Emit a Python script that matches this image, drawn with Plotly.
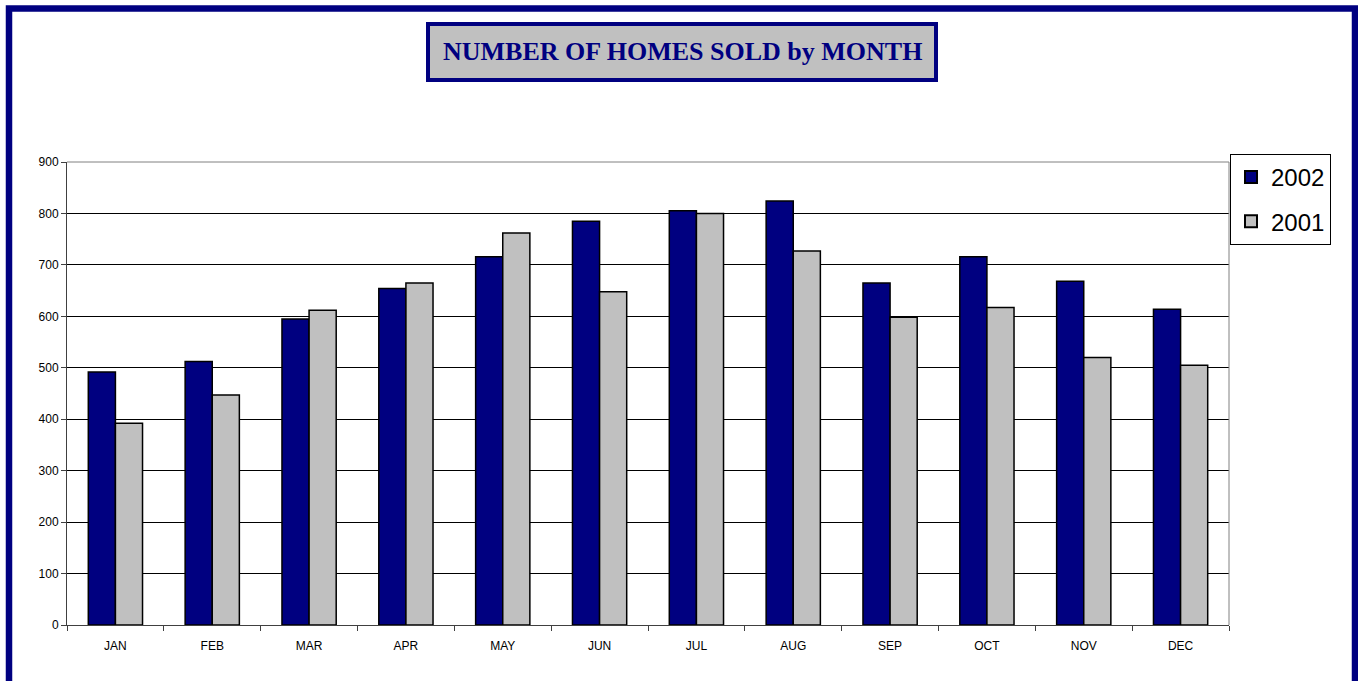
import plotly.graph_objects as go

months = ["JAN", "FEB", "MAR", "APR", "MAY", "JUN", "JUL", "AUG", "SEP", "OCT", "NOV", "DEC"]
sales_2002 = [492, 512, 595, 654, 716, 785, 805, 824, 665, 716, 668, 614]
sales_2001 = [392, 447, 612, 665, 762, 648, 800, 727, 598, 617, 520, 505]
y_ticks = [0, 100, 200, 300, 400, 500, 600, 700, 800, 900]

W, H = 1358, 681
L, R, T, B = 67, 129, 162, 56
pw, ph = W - L - R, H - T - B

def px(x):
    return (x - L) / pw

def py(y):
    return (H - B - y) / ph

fig = go.Figure()
fig.add_trace(go.Bar(x=months, y=sales_2002, name="2002", legendgroup="a",
                     marker=dict(color="#000080", line=dict(color="#000000", width=1.5))))
fig.add_trace(go.Bar(x=months, y=sales_2001, name="2001", legendgroup="b",
                     marker=dict(color="#C0C0C0", line=dict(color="#000000", width=1.5))))

fig.update_layout(
    width=W, height=H,
    margin=dict(l=L, r=R, t=T, b=B, autoexpand=False),
    paper_bgcolor="white", plot_bgcolor="white",
    barmode="group", bargap=0.44, bargroupgap=0,
    font=dict(family="Liberation Sans, Arial", color="black"),
    showlegend=True,
    legend=dict(x=px(1230), y=py(154), xanchor="left", yanchor="top",
                bordercolor="black", borderwidth=1, bgcolor="white",
                font=dict(size=24, family="Liberation Sans, Arial"),
                itemsizing="constant", tracegroupgap=10),
    xaxis=dict(showline=True, linecolor="#404040", linewidth=1,
               ticks="outside", tickson="boundaries", ticklen=5, tickcolor="#404040",
               tickfont=dict(size=12), showgrid=False, ticklabelstandoff=10),
    yaxis=dict(range=[0, 900], tickvals=y_ticks, showline=True, linecolor="#404040", linewidth=1,
               ticks="outside", ticklen=5, tickcolor="#404040", tickfont=dict(size=12),
               showgrid=True, gridcolor="#000000", gridwidth=1, zeroline=False),
)

# plot right border
fig.add_shape(type="line", xref="paper", yref="paper", x0=1, x1=1, y0=0, y1=1,
              line=dict(color="#808080", width=1))
# top border line (900)
fig.add_shape(type="line", xref="paper", yref="paper", x0=0, x1=1, y0=1, y1=1,
              line=dict(color="#808080", width=1))

# outer navy frame
fig.add_shape(type="rect", xref="paper", yref="paper",
              x0=px(9), x1=px(1355), y0=py(700), y1=py(8.5),
              line=dict(color="#000080", width=6.5), fillcolor="rgba(0,0,0,0)", layer="above")

# title box
fig.add_shape(type="rect", xref="paper", yref="paper",
              x0=px(428), x1=px(936), y0=py(80), y1=py(24),
              line=dict(color="#000080", width=4), fillcolor="#C0C0C0", layer="above")
fig.add_annotation(text="<b>NUMBER OF HOMES SOLD by MONTH</b>", xref="paper", yref="paper",
                   x=px(682), y=py(52), xanchor="center", yanchor="middle", showarrow=False,
                   font=dict(family="Liberation Serif, Times New Roman", size=26, color="#000080"))

fig.write_html("out.html", config={"displayModeBar": False},
               post_script="document.body.style.margin='0';document.body.style.overflow='hidden';")
